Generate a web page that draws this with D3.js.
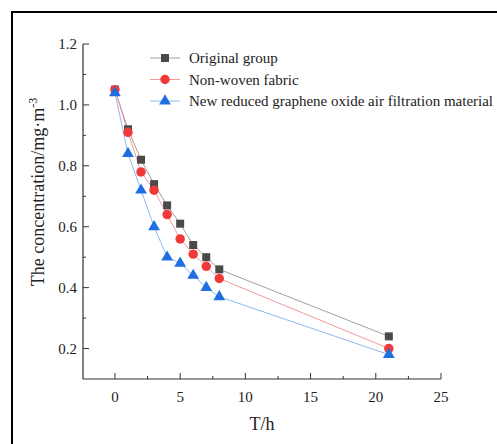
<!DOCTYPE html>
<html>
<head>
<meta charset="utf-8">
<script src="https://cdn.jsdelivr.net/npm/d3@7"></script>
<style>
  body { margin: 0; background: #fff; }
  svg { display: block; }
  svg text { font-family: "Liberation Serif", "Times New Roman", Times, serif; }
</style>
</head>
<body>
<svg width="497" height="444"></svg>
<script>
var hours = [0, 1, 2, 3, 4, 5, 6, 7, 8, 21];
var originalGroup = [1.05, 0.92, 0.82, 0.74, 0.67, 0.61, 0.54, 0.50, 0.46, 0.24];
var nonWoven = [1.05, 0.91, 0.78, 0.72, 0.64, 0.56, 0.51, 0.47, 0.43, 0.20];
var grapheneOxide = [1.04, 0.84, 0.72, 0.60, 0.50, 0.48, 0.44, 0.40, 0.37, 0.18];
var seriesNames = ["Original group", "Non-woven fabric", "New reduced graphene oxide air filtration material"];
var xTicks = [0, 5, 10, 15, 20, 25];
var yTicks = [0.2, 0.4, 0.6, 0.8, 1.0, 1.2];

var series = [
  { name: seriesNames[0], values: originalGroup, line: "#a0a0a0", fill: "#4a4a4a", symbol: d3.symbolSquare, size: 64 },
  { name: seriesNames[1], values: nonWoven, line: "#f49a9a", fill: "#f03a3a", symbol: d3.symbolCircle, size: 70 },
  { name: seriesNames[2], values: grapheneOxide, line: "#8fb8f0", fill: "#1f6fe0", symbol: d3.symbolTriangle, size: 60 }
];

var FONT = "'Liberation Serif', 'Times New Roman', Times, serif";

var svg = d3.select("svg");

// outer frame (top and left only visible)
svg.append("path")
  .attr("d", "M12,444 L12,12 L497,12")
  .attr("fill", "none")
  .attr("stroke", "#000")
  .attr("stroke-width", 2);

var x = d3.scaleLinear().domain([-2.45, 25]).range([83, 441]);
var y = d3.scaleLinear().domain([0.1, 1.2]).range([379, 44]);

var g = svg.append("g");

// x axis
var xAxis = g.append("g").attr("transform", "translate(0,379)");
xAxis.append("line").attr("x1", 83).attr("x2", 441).attr("stroke", "#333").attr("stroke-width", 1.2);
xAxis.selectAll(".minor").data(d3.range(2.5, 25, 5)).enter().append("line")
  .attr("x1", function (d) { return x(d); }).attr("x2", function (d) { return x(d); })
  .attr("y1", 0).attr("y2", -3).attr("stroke", "#333");
xAxis.selectAll(".major").data(xTicks).enter().append("line")
  .attr("x1", function (d) { return x(d); }).attr("x2", function (d) { return x(d); })
  .attr("y1", 0).attr("y2", -6).attr("stroke", "#333");
xAxis.selectAll("text").data(xTicks).enter().append("text")
  .attr("x", function (d) { return x(d); }).attr("y", 23)
  .attr("text-anchor", "middle").attr("font-size", 15).attr("fill", "#222")
  .attr("font-family", FONT)
  .text(function (d) { return d; });

// y axis
var yAxis = g.append("g").attr("transform", "translate(83,0)");
yAxis.append("line").attr("y1", 44).attr("y2", 379).attr("stroke", "#333").attr("stroke-width", 1.2);
yAxis.selectAll(".minor").data([0.3, 0.5, 0.7, 0.9, 1.1]).enter().append("line")
  .attr("y1", function (d) { return y(d); }).attr("y2", function (d) { return y(d); })
  .attr("x1", 0).attr("x2", 3).attr("stroke", "#333");
yAxis.selectAll(".major").data(yTicks).enter().append("line")
  .attr("y1", function (d) { return y(d); }).attr("y2", function (d) { return y(d); })
  .attr("x1", 0).attr("x2", 6).attr("stroke", "#333");
yAxis.selectAll("text").data(yTicks).enter().append("text")
  .attr("x", -6).attr("y", function (d) { return y(d) + 5; })
  .attr("text-anchor", "end").attr("font-size", 15).attr("fill", "#222")
  .attr("font-family", FONT)
  .text(function (d) { return d.toFixed(1); });

// axis titles
svg.append("text")
  .attr("x", 262).attr("y", 430)
  .attr("text-anchor", "middle").attr("font-size", 18).attr("fill", "#222")
  .attr("font-family", FONT)
  .text("T/h");

var yt = svg.append("text")
  .attr("transform", "translate(44,192) rotate(-90)")
  .attr("text-anchor", "middle").attr("font-size", 18).attr("fill", "#222")
  .attr("font-family", FONT);
yt.append("tspan").text("The concentration/mg·m");
yt.append("tspan").attr("dy", -7).attr("font-size", 12).text("-3");

// lines and markers
var line = d3.line()
  .x(function (d, i) { return x(hours[i]); })
  .y(function (d) { return y(d); });

series.forEach(function (s) {
  g.append("path")
    .attr("d", line(s.values))
    .attr("fill", "none")
    .attr("stroke", s.line)
    .attr("stroke-width", 1);
});
series.forEach(function (s) {
  g.selectAll(null).data(s.values).enter().append("path")
    .attr("d", d3.symbol().type(s.symbol).size(s.size))
    .attr("transform", function (d, i) { return "translate(" + x(hours[i]) + "," + y(d) + ")"; })
    .attr("fill", s.fill);
});

// legend
var legend = svg.append("g").attr("transform", "translate(150,58)");
series.forEach(function (s, i) {
  var row = legend.append("g").attr("transform", "translate(0," + (i * 21.5) + ")");
  row.append("line").attr("x1", 0).attr("x2", 30).attr("stroke", s.line).attr("stroke-width", 1);
  row.append("path").attr("d", d3.symbol().type(s.symbol).size(s.size))
    .attr("transform", "translate(15,0)").attr("fill", s.fill);
  row.append("text").attr("x", 39).attr("y", 5)
    .attr("font-size", 15).attr("fill", "#222")
    .attr("font-family", FONT)
    .text(s.name);
});
</script>
</body>
</html>
